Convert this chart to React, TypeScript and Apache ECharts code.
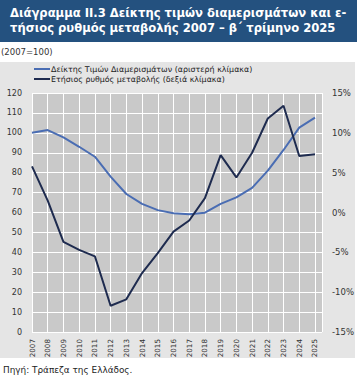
import React, { useEffect, useRef } from "react";
import * as echarts from "echarts";

const years = [2007, 2008, 2009, 2010, 2011, 2012, 2013, 2014, 2015, 2016, 2017, 2018, 2019, 2020, 2021, 2022, 2023, 2024, 2025];
const priceIndex = [100, 101.4, 97.7, 93, 88, 78, 69.3, 64.3, 61.2, 59.6, 59.1, 59.9, 64.3, 67.6, 72.4, 81, 91.4, 102.6, 107.6];
const annualChange = [5.8, 1.5, -3.7, -4.7, -5.5, -11.7, -10.9, -7.6, -5.1, -2.4, -1.0, 1.8, 7.2, 4.4, 7.5, 11.8, 13.4, 7.1, 7.3];
const seriesNames = ["Δείκτης Τιμών Διαμερισμάτων (αριστερή κλίμακα)", "Ετήσιος ρυθμός μεταβολής (δεξιά κλίμακα)"];
const titleLines = ["Διάγραμμα ΙΙ.3 Δείκτης τιμών διαμερισμάτων και ε-", "τήσιος ρυθμός μεταβολής 2007 – β΄ τρίμηνο 2025"];
const unitNote = "(2007=100)";
const sourceNote = "Πηγή: Τράπεζα της Ελλάδος.";

const FONT = "DejaVu Sans";

export default function App() {
  const ref = useRef<HTMLDivElement>(null);
  useEffect(() => {
    document.body.style.margin = "0";
    const chart = echarts.init(ref.current!, null, { renderer: "svg" });
    chart.setOption({
      animation: false,
      backgroundColor: "#ffffff",
      graphic: [
        { type: "rect", shape: { x: 0, y: 0, width: 357, height: 42 }, style: { fill: "#24517f" }, z: -10 },
        { type: "rect", shape: { x: 0, y: 62, width: 355, height: 296 }, style: { fill: "#e5e5e5" }, z: -10 },
        { type: "text", x: 10, y: 7, style: { text: titleLines[0], fill: "#ffffff", fontSize: 11.6, fontWeight: "bold", fontFamily: FONT } },
        { type: "text", x: 10, y: 22, style: { text: titleLines[1], fill: "#ffffff", fontSize: 11.6, fontWeight: "bold", fontFamily: FONT } },
        { type: "text", x: 1, y: 47, style: { text: unitNote, fill: "#333333", fontSize: 8.5, fontFamily: FONT } },
        { type: "text", x: 3, y: 365, style: { text: sourceNote, fill: "#222222", fontSize: 8.9, fontFamily: FONT } },
      ],
      legend: {
        orient: "vertical",
        left: 34,
        top: 65,
        itemWidth: 16,
        itemHeight: 2,
        itemGap: 2,
        icon: "rect",
        padding: 0,
        textStyle: { fontFamily: FONT, fontSize: 7.9, color: "#222222", padding: [0, 0, 0, -4] },
        data: seriesNames,
      },
      grid: { left: 32, top: 93, right: 34, bottom: 45, show: true, backgroundColor: "#c9c9c9", borderWidth: 0 },
      xAxis: {
        type: "value",
        min: 2007,
        max: 2025.45,
        interval: 1,
        axisLine: { show: false },
        axisTick: { show: false },
        splitLine: { show: true, lineStyle: { color: "#ffffff", width: 1 } },
        axisLabel: {
          rotate: 90,
          margin: 7,
          fontFamily: FONT,
          fontSize: 7.2,
          color: "#333333",
          formatter: (v: number) => (Number.isInteger(v) ? String(v) : ""),
        },
      },
      yAxis: [
        {
          type: "value",
          min: 0,
          max: 120,
          interval: 10,
          axisLine: { show: false },
          axisTick: { show: false },
          splitLine: { show: true, lineStyle: { color: "#ffffff", width: 1 } },
          axisLabel: { margin: 10, fontFamily: FONT, fontSize: 8, color: "#333333" },
        },
        {
          type: "value",
          min: -15,
          max: 15,
          interval: 5,
          position: "right",
          axisLine: { show: false },
          axisTick: { show: false },
          splitLine: { show: false },
          axisLabel: { margin: 10, fontFamily: FONT, fontSize: 8.5, color: "#333333", formatter: "{value}%" },
        },
      ],
      series: [
        {
          name: seriesNames[0],
          type: "line",
          yAxisIndex: 0,
          symbol: "none",
          data: years.map((y, i) => [y, priceIndex[i]]),
          lineStyle: { color: "#4a6db3", width: 2 },
          itemStyle: { color: "#4a6db3" },
        },
        {
          name: seriesNames[1],
          type: "line",
          yAxisIndex: 1,
          symbol: "none",
          data: years.map((y, i) => [y, annualChange[i]]),
          lineStyle: { color: "#1e2b4f", width: 2 },
          itemStyle: { color: "#1e2b4f" },
        },
      ],
    });
    return () => chart.dispose();
  }, []);
  return <div ref={ref} style={{ width: 357, height: 377 }} />;
}
